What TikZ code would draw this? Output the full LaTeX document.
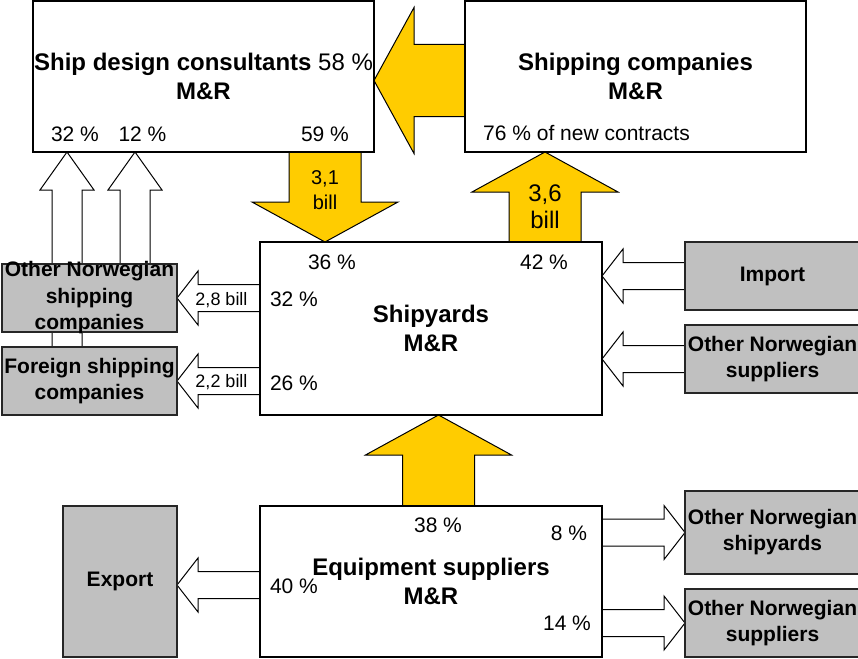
\documentclass[tikz,border=0pt]{standalone}
\usepackage{fontspec}
\setmainfont{Liberation Sans}
\usetikzlibrary{positioning,calc,backgrounds}

\definecolor{flowyellow}{HTML}{FFCC00}
\definecolor{boxgrey}{HTML}{C0C0C0}

\begin{document}
\begin{tikzpicture}[
            x=1pt, y=-1pt,
            node distance=91pt and 91pt,
            % --- 样式定义 ---
            unit/.style={rectangle, draw, line width=2pt, fill=white, inner sep=0pt, outer sep=0pt,
                         minimum width=341pt, align=center, font=\fontsize{24}{29}\selectfont\bfseries},
            market/.style={rectangle, draw=black!85, line width=1.3pt, fill=boxgrey, inner sep=0pt,
                           outer sep=0pt, minimum width=175pt, minimum height=68pt, align=center,
                           font=\fontsize{21}{26}\selectfont\bfseries},
            pct/.style={inner sep=0pt, font=\fontsize{21}{25}\selectfont},
            bill/.style={inner sep=0pt, align=center, font=\fontsize{18}{22}\selectfont},
            fat/.style n args={3}{to path={
                let \p1=($(\tikztotarget)!#3!(\tikztostart)$) in
                ($(\tikztostart)!#1!90:(\tikztotarget)$)
                -- ($(\p1)!#1!90:(\tikztotarget)$) -- ($(\p1)!#2!90:(\tikztotarget)$)
                -- (\tikztotarget)
                -- ($(\p1)!#2!-90:(\tikztotarget)$) -- ($(\p1)!#1!-90:(\tikztotarget)$)
                -- ($(\tikztostart)!#1!-90:(\tikztotarget)$) -- cycle}},
            money/.style={draw, line width=1pt, fill=flowyellow, fat={36pt}{73pt}{40pt}},
            share/.style={draw, line width=1pt, fill=white, fat={13.5pt}{27pt}{21pt}},
            rise/.style={draw, line width=1pt, fill=white, fat={15pt}{27pt}{38pt}}
        ]
        \useasboundingbox (0,0) rectangle (858,658);

        % --- 主体方框 ---
        \node[unit, minimum height=151pt] (sdc) at (203.5,76.5)
            {Ship design consultants {\mdseries 58 \%}\\M\&R};
        \node[unit, minimum height=151pt, right=of sdc] (ship) {Shipping companies\\M\&R};
        \node[unit, minimum width=342pt, minimum height=173pt] (yard) at (431,328.5) {Shipyards\\M\&R};
        \node[unit, minimum width=342pt, minimum height=151pt, below=of yard] (equip)
            {Equipment suppliers\\M\&R};

        % --- 外部市场 ---
        \node[market, label={[font=\fontsize{21}{26.5}\selectfont\bfseries, align=center]center:{Other Norwegian\\shipping\\companies}}]
            (ono) at (89.5,298) {};
        \node[market] (fsc) at (89.5,381) {Foreign shipping\\companies};
        \node[market] (imp) at (772.5,276) {Import};
        \node[market] (onsu) at (772.5,359) {Other Norwegian\\suppliers};
        \node[market, minimum width=114pt, minimum height=151pt] (exp) at (120,581.5) {Export};
        \node[market, minimum height=83pt] (onsy) at (772.5,532.5) {Other Norwegian\\shipyards};
        \node[market] (onsu2) at (772.5,623) {Other Norwegian\\suppliers};

        % --- 百分比 ---
        \node[pct] at ([xshift=42pt, yshift=18pt]sdc.south west) {32 \%};
        \node[pct] at ([xshift=109.5pt, yshift=18pt]sdc.south west) {12 \%};
        \node[pct] at ([xshift=292pt, yshift=18pt]sdc.south west) {59 \%};
        \node[pct, anchor=west] at ([xshift=18pt, yshift=19pt]ship.south west) {76 \% of new contracts};
        \node[pct] at ([xshift=72pt, yshift=-20pt]yard.north west) {36 \%};
        \node[pct] at ([xshift=284pt, yshift=-20pt]yard.north west) {42 \%};
        \node[pct] at ([xshift=34pt, yshift=-57pt]yard.north west) {32 \%};
        \node[pct] at ([xshift=34pt, yshift=-141pt]yard.north west) {26 \%};
        \node[pct] at ([xshift=178pt, yshift=-19pt]equip.north west) {38 \%};
        \node[pct] at ([xshift=309pt, yshift=-27pt]equip.north west) {8 \%};
        \node[pct] at ([xshift=34pt, yshift=-80pt]equip.north west) {40 \%};
        \node[pct] at ([xshift=307pt, yshift=-117pt]equip.north west) {14 \%};

        % --- 箭头起点 ---
        \coordinate (tip31) at ([xshift=65pt]yard.north west);
        \coordinate (foot36) at ([xshift=285pt]yard.north west);
        \coordinate (foot38) at ([xshift=178.5pt]equip.north west);
        \coordinate (foot32) at ([xshift=65pt]fsc.north west);
        \coordinate (foot12) at ([xshift=133pt]ono.north west);
        \coordinate (foot40) at ([yshift=-3.5pt]equip.west);

        % --- 连线定义 ---
        \begin{scope}[on background layer]
            \draw[money] ([yshift=-4pt]ship.west) to ([yshift=-4pt]sdc.east);
            \draw[money] (tip31 |- sdc.south) to (tip31);
            \draw[money] (foot36) to (foot36 |- ship.south);
            \draw[money] (foot38) to (foot38 |- yard.south);

            \draw[rise] (foot32) to (foot32 |- sdc.south);
            \draw[rise] (foot12) to (foot12 |- sdc.south);

            \draw[share] (yard.west |- ono.east) to (ono.east);
            \draw[share] (yard.west |- fsc.east) to (fsc.east);
            \draw[share] (imp.west) to (yard.east |- imp.west);
            \draw[share] (onsu.west) to (yard.east |- onsu.west);
            \draw[share] (foot40) to (foot40 -| exp.east);
            \draw[share] (equip.east |- onsy.west) to (onsy.west);
            \draw[share] (equip.east |- onsu2.west) to (onsu2.west);
        \end{scope}

        % 箭头上的金额
        \node[bill, font=\fontsize{20}{25}\selectfont] at ($(tip31 |- sdc.south)!0.42!(tip31)$) {3,1\\bill};
        \node[bill, font=\fontsize{24}{27}\selectfont] at ($(foot36)!0.39!(foot36 |- ship.south)$) {3,6\\bill};
        \node[bill] at ([xshift=3pt, yshift=-2pt]$(ono.east)!0.5!(yard.west |- ono.east)$) {2,8 bill};
        \node[bill] at ([xshift=3pt, yshift=-1pt]$(fsc.east)!0.5!(yard.west |- fsc.east)$) {2,2 bill};

        \end{tikzpicture}
\end{document}
